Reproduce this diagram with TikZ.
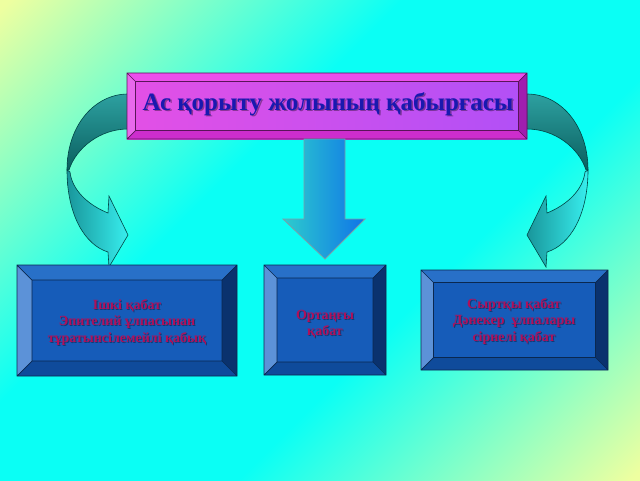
\documentclass[tikz,border=0pt]{standalone}
\usepackage{fontspec}
\setmainfont{Liberation Serif}
\definecolor{bgY}{RGB}{238,255,160}
\definecolor{bgC}{RGB}{10,255,245}
\pgfdeclarehorizontalshading{bgshade}{100bp}{color(0bp)=(bgY); color(15bp)=(bgY); color(40bp)=(bgC); color(60bp)=(bgC); color(85bp)=(bgY); color(100bp)=(bgY)}
\definecolor{blFace}{RGB}{22,92,185}
\definecolor{blTop}{RGB}{40,112,200}
\definecolor{blLeft}{RGB}{92,146,216}
\definecolor{blRight}{RGB}{10,50,110}
\definecolor{blBot}{RGB}{15,75,155}
\definecolor{blLine}{RGB}{10,40,80}
\definecolor{mgTop}{RGB}{236,78,236}
\definecolor{mgLeft}{RGB}{232,104,236}
\definecolor{mgRight}{RGB}{160,30,175}
\definecolor{mgBot}{RGB}{205,45,205}
\definecolor{mgLine}{RGB}{90,20,90}
\definecolor{titleCol}{RGB}{25,25,175}
\definecolor{boxTxt}{RGB}{176,16,90}
\definecolor{tealLine}{RGB}{0,70,70}
\tikzset{
  blF/.style={fill=blFace}, blT/.style={fill=blTop}, blL/.style={fill=blLeft},
  blR/.style={fill=blRight}, blB/.style={fill=blBot}, blD/.style={draw=blLine},
  mgF/.style={left color={rgb,255:red,226;green,80;blue,230}, right color={rgb,255:red,178;green,80;blue,246}},
  mgT/.style={fill=mgTop}, mgL/.style={fill=mgLeft},
  mgR/.style={fill=mgRight}, mgB/.style={fill=mgBot}, mgD/.style={draw=mgLine},
  titletext/.style={font=\fontsize{25}{28}\selectfont\bfseries, text=titleCol, inner sep=0pt},
  boxtext/.style={font=\fontsize{14}{16.5}\selectfont\bfseries, text=boxTxt, align=center, inner sep=0pt},
  shadowtext/.style={text=black, opacity=0.35},
  backband/.style={top color={rgb,255:red,45;green,160;blue,160}, bottom color={rgb,255:red,10;green,95;blue,95}, draw=tealLine, line width=0.6pt},
  frontband/.style={left color={rgb,255:red,25;green,150;blue,155}, right color={rgb,255:red,55;green,238;blue,238}, draw=tealLine, line width=0.6pt},
  downarrow/.style={left color={rgb,255:red,45;green,205;blue,205}, middle color={rgb,255:red,35;green,225;blue,195}, right color={rgb,255:red,15;green,115;blue,232}, draw={rgb,255:red,120;green,160;blue,170}, line width=0.8pt}
}
\newcommand\bevelbox[6]{%
  \path[#6F] (#1,#2) rectangle (#3,#4);
  \path[#6T] (#1,#2) -- (#3,#2) -- ({#3-#5},{#2+#5}) -- ({#1+#5},{#2+#5}) -- cycle;
  \path[#6L] (#1,#2) -- ({#1+#5},{#2+#5}) -- ({#1+#5},{#4-#5}) -- (#1,#4) -- cycle;
  \path[#6R] (#3,#2) -- (#3,#4) -- ({#3-#5},{#4-#5}) -- ({#3-#5},{#2+#5}) -- cycle;
  \path[#6B] (#1,#4) -- (#3,#4) -- ({#3-#5},{#4-#5}) -- ({#1+#5},{#4-#5}) -- cycle;
  \path[#6F] ({#1+#5},{#2+#5}) rectangle ({#3-#5},{#4-#5});
  \path[#6D, line width=0.7pt] (#1,#2) rectangle (#3,#4)
    ({#1+#5},{#2+#5}) rectangle ({#3-#5},{#4-#5})
    (#1,#2) -- ({#1+#5},{#2+#5}) (#3,#2) -- ({#3-#5},{#2+#5})
    (#1,#4) -- ({#1+#5},{#4-#5}) (#3,#4) -- ({#3-#5},{#4-#5});
}
\newcommand\curvedarrow{%
  \path[backband] (128,94) .. controls (95,94) and (67,125) .. (67,170)
    -- (69,170) .. controls (76,148) and (100,129) .. (128,129) -- cycle;
  \path[frontband] (67,170) .. controls (67,215) and (85,245) .. (108,252)
    -- (109,267) -- (128,235) -- (109,196) -- (108,213)
    .. controls (88,205) and (72,190) .. (70,172) -- cycle;
}
\begin{document}
\begin{tikzpicture}[x=1pt,y=-1pt]
\useasboundingbox (0,0) rectangle (640,480);
\shade[shading=bgshade, shading angle=-45] (0,0) rectangle (640,480);
% curved arrows
\curvedarrow
\begin{scope}[shift={(655,0)}, xscale=-1]
  \curvedarrow
\end{scope}
% title box
\bevelbox{127}{73}{527}{139}{8.5}{mg}
\node[titletext, shadowtext, anchor=base] at (329.5,111.5) {Ас қорыту жолының қабырғасы};
\node[titletext, anchor=base] (title) at (328,110) {Ас қорыту жолының қабырғасы};
% middle arrow
\path[downarrow] (304,139) -- (345,139) -- (345,219) -- (365,219) -- (325,259) -- (283,219) -- (304,219) -- cycle;
% boxes
\bevelbox{17}{265}{237}{376}{15}{bl}
\bevelbox{264}{265}{386}{375}{13}{bl}
\bevelbox{421}{270}{608}{370}{12.5}{bl}
\node[boxtext, shadowtext] at (128,323) {Ішкі қабат\\Эпителий ұлпасынан\\тұратынсілемейлі қабық};
\node[boxtext] (inner) at (127,322) {Ішкі қабат\\Эпителий ұлпасынан\\тұратынсілемейлі қабық};
\node[boxtext, shadowtext] at (326,325) {Ортаңғы\\қабат};
\node[boxtext] (middle) at (325,324) {Ортаңғы\\қабат};
\node[boxtext, shadowtext] at (515,322) {Сыртқы қабат\\Дәнекер~ ұлпалары\\сірнелі қабат};
\node[boxtext] (outer) at (514,321) {Сыртқы қабат\\Дәнекер~ ұлпалары\\сірнелі қабат};
\end{tikzpicture}
\end{document}
